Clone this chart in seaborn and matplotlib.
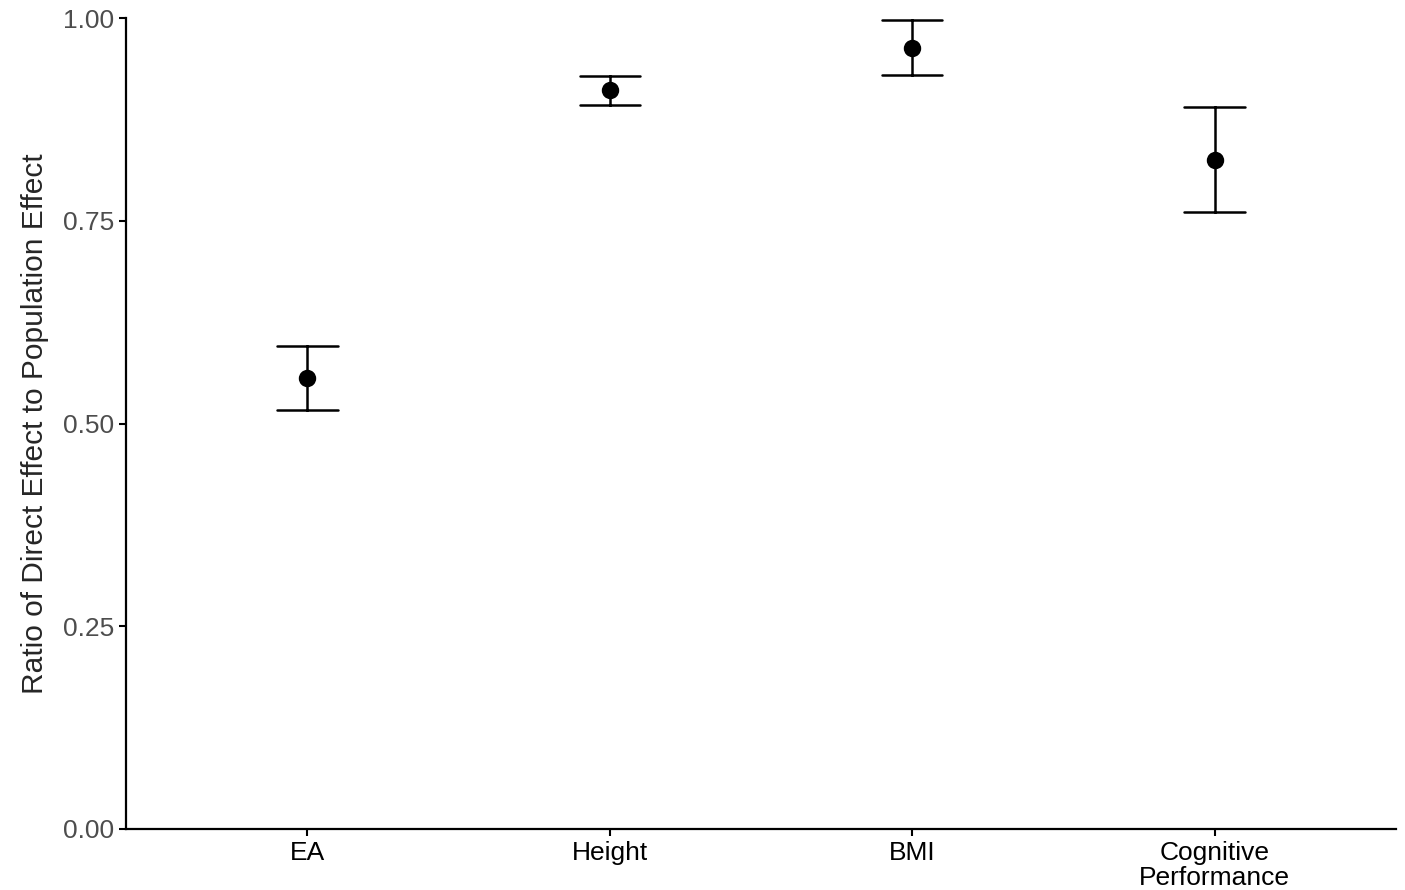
import matplotlib
matplotlib.use('Agg')
import matplotlib.pyplot as plt
import seaborn as sns
import pandas as pd

traits = ['EA', 'Height', 'BMI', 'Cognitive\nPerformance']
ratio = [0.556, 0.911, 0.963, 0.825]
lower = [0.517, 0.893, 0.930, 0.761]
upper = [0.596, 0.928, 0.998, 0.890]

# three rows per trait: median gives the estimate, min/max gives the interval
rows = []
for t, lo, r, up in zip(traits, lower, ratio, upper):
    for v in (lo, r, up):
        rows.append({'trait': t, 'ratio': v})
df = pd.DataFrame(rows)

sns.set_style('ticks')
plt.rcParams['font.family'] = ['Liberation Sans', 'DejaVu Sans']

fig = plt.figure(figsize=(14.05, 8.9), dpi=100)
ax = fig.add_axes([126 / 1405, 1 - 829 / 890, (1396 - 126) / 1405, (829 - 18) / 890])

sns.pointplot(data=df, x='trait', y='ratio', order=traits,
              estimator='median', errorbar=('pi', 100),
              capsize=0.2, color='black', linestyle='none',
              markersize=10.5, err_kws={'linewidth': 1.8}, ax=ax)

ax.set_xlim(-0.6, 3.6)
ax.set_ylim(0, 1)
ax.set_yticks([0, 0.25, 0.5, 0.75, 1.0])
ax.set_yticklabels(['0.00', '0.25', '0.50', '0.75', '1.00'])
ax.set_xlabel('')
ax.set_ylabel('Ratio of Direct Effect to Population Effect', fontsize=21.5, labelpad=10)
ax.tick_params(axis='y', labelsize=19, colors='black', labelcolor='#4D4D4D',
               length=5, width=1.5)
ax.tick_params(axis='x', labelsize=19, colors='black', labelcolor='black',
               length=5, width=1.5)
for lab in ax.get_xticklabels():
    lab.set_linespacing(1.05)
sns.despine(ax=ax)
for s in ['left', 'bottom']:
    ax.spines[s].set_linewidth(1.6)
    ax.spines[s].set_color('black')

fig.savefig('out.png', dpi=100)
